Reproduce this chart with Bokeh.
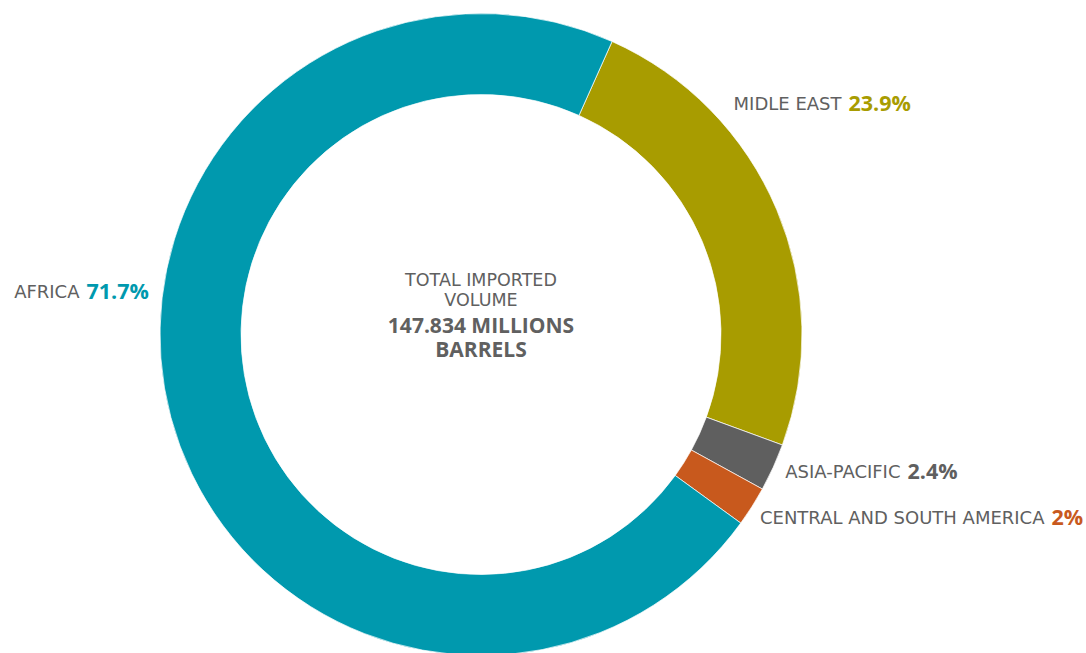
import math
from bokeh.plotting import figure
from bokeh.models import Range1d, ColumnDataSource
from bokeh.core.properties import value
from bokeh.embed import file_html
from bokeh.resources import INLINE

# ---- data ----
regions = ["MIDLE EAST", "ASIA-PACIFIC", "CENTRAL AND SOUTH AMERICA", "AFRICA"]
shares = [23.9, 2.4, 2.0, 71.7]
share_labels = ["23.9%", "2.4%", "2%", "71.7%"]
colors = ["#a89c00", "#5f5f5f", "#c8591d", "#0099ae"]
center_lines = ["TOTAL IMPORTED", "VOLUME", "147.834 MILLIONS", "BARRELS"]

# ---- layout (screen px) ----
W, H = 1086, 653
def sy(y):
    return H - y

cx, cy = 480.5, 334.0
r_out, r_in = 321.0, 240.0
start_deg = 24.1  # clockwise from 12 o'clock

# label positions: (x where name ends, y middle)
label_pos = [(841, 103), (900, 471), (1044, 517), (79, 291)]
gap = 7
center_pos = [279, 299, 324, 348]
center_size = ["17.5px", "17.5px", "21px", "21px"]
center_style = ["normal", "normal", "bold", "bold"]
center_font = ["DejaVu Sans", "DejaVu Sans", "Open Sans", "Open Sans"]

NAME_FONT = "DejaVu Sans"
NUM_FONT = "Open Sans"
GRAY = "#606060"

p = figure(width=W, height=H, output_backend="svg", toolbar_location=None,
           x_range=Range1d(0, W), y_range=Range1d(0, H),
           min_border=0, outline_line_color=None)
p.axis.visible = False
p.grid.visible = False
p.background_fill_color = "white"
p.border_fill_color = "white"

total = sum(shares)
starts, ends = [], []
acc = start_deg
for s in shares:
    a0 = acc
    a1 = acc + s / total * 360.0
    starts.append(math.radians(90 - a0))
    ends.append(math.radians(90 - a1))
    acc = a1

src = ColumnDataSource(dict(x=[cx] * 4, y=[sy(cy)] * 4, start=starts, end=ends, color=colors))
p.annular_wedge(x="x", y="y", inner_radius=r_in, outer_radius=r_out,
                start_angle="start", end_angle="end", direction="clock",
                fill_color="color", line_color="white", line_width=1, line_alpha=0.7,
                source=src)

for (lx, ly), name, lab, col in zip(label_pos, regions, share_labels, colors):
    p.text(x=[lx], y=[sy(ly)], text=[name], text_font=value(NAME_FONT),
           text_font_size="18px", text_color=GRAY, text_align="right",
           text_baseline="middle")
    p.text(x=[lx + gap], y=[sy(ly - 1)], text=[lab], text_font=value(NUM_FONT),
           text_font_size="21.5px", text_font_style="bold", text_color=col,
           text_align="left", text_baseline="middle")

for t, yy, fs, st, fn in zip(center_lines, center_pos, center_size, center_style, center_font):
    p.text(x=[cx], y=[sy(yy)], text=[t], text_font=value(fn), text_font_size=fs,
           text_font_style=st, text_color=GRAY, text_align="center",
           text_baseline="middle")

open("out.html", "w").write(file_html(p, INLINE))
